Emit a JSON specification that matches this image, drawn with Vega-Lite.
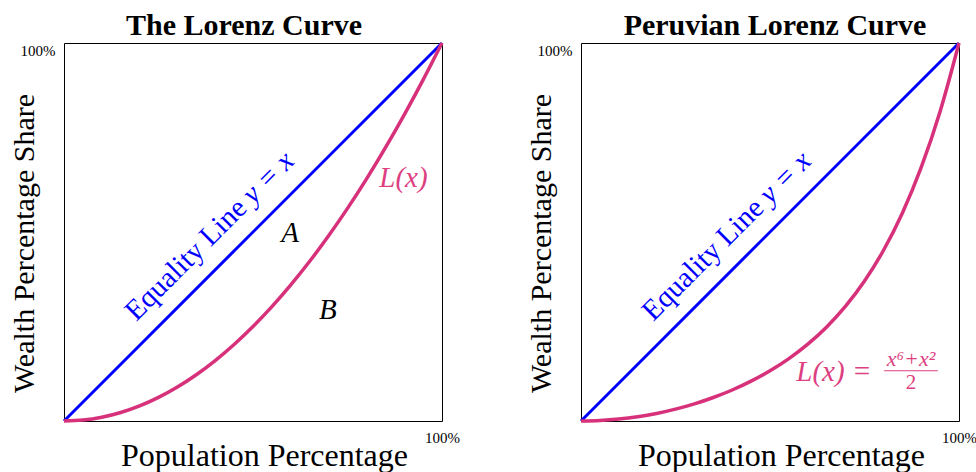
{
  "$schema": "https://vega.github.io/schema/vega-lite/v6.json",
  "background": "white",
  "padding": {"left": 8, "top": 10, "right": 0, "bottom": 0},
  "spacing": 139,
  "bounds": "flush",
  "config": {
    "view": {"stroke": "#000", "strokeWidth": 1},
    "font": "Liberation Serif",
    "axis": {
      "ticks": false,
      "domain": false,
      "grid": false,
      "labelFlush": false,
      "labelOverlap": false,
      "labelFont": "Liberation Serif",
      "labelFontSize": 15,
      "labelColor": "#000",
      "labelPadding": 9,
      "titleFont": "Liberation Serif",
      "titleFontWeight": "normal",
      "titleColor": "#000",
      "titleBaseline": "alphabetic",
      "titleAlign": "center"
    }
  },
  "datasets": {
    "equality": [{"x": 0, "y": 0}, {"x": 1, "y": 1}],
    "lorenz1": [
      {"x": 0, "y": 0}, {"x": 0.05, "y": 0.0025}, {"x": 0.1, "y": 0.01}, {"x": 0.15, "y": 0.0225},
      {"x": 0.2, "y": 0.04}, {"x": 0.25, "y": 0.0625}, {"x": 0.3, "y": 0.09}, {"x": 0.35, "y": 0.1225},
      {"x": 0.4, "y": 0.16}, {"x": 0.45, "y": 0.2025}, {"x": 0.5, "y": 0.25}, {"x": 0.55, "y": 0.3025},
      {"x": 0.6, "y": 0.36}, {"x": 0.65, "y": 0.4225}, {"x": 0.7, "y": 0.49}, {"x": 0.75, "y": 0.5625},
      {"x": 0.8, "y": 0.64}, {"x": 0.85, "y": 0.7225}, {"x": 0.9, "y": 0.81}, {"x": 0.95, "y": 0.9025},
      {"x": 1, "y": 1}
    ],
    "lorenz2": [
      {"x": 0, "y": 0}, {"x": 0.05, "y": 0.00125}, {"x": 0.1, "y": 0.005}, {"x": 0.15, "y": 0.01126},
      {"x": 0.2, "y": 0.02003}, {"x": 0.25, "y": 0.03137}, {"x": 0.3, "y": 0.04536}, {"x": 0.35, "y": 0.06217},
      {"x": 0.4, "y": 0.08205}, {"x": 0.45, "y": 0.1054}, {"x": 0.5, "y": 0.13281}, {"x": 0.55, "y": 0.16509},
      {"x": 0.6, "y": 0.20333}, {"x": 0.65, "y": 0.24896}, {"x": 0.7, "y": 0.30382}, {"x": 0.75, "y": 0.37024},
      {"x": 0.8, "y": 0.45107}, {"x": 0.85, "y": 0.54983}, {"x": 0.9, "y": 0.67072}, {"x": 0.95, "y": 0.8188},
      {"x": 1, "y": 1}
    ],
    "eqWords": [{"x": 0.375, "y": 0.375, "label": "Equality Line"}],
    "eqMath": [{"x": 0.592, "y": 0.592, "label": "y = x"}],
    "regions": [{"x": 0.598, "y": 0.497, "label": "A"}, {"x": 0.698, "y": 0.294, "label": "B"}],
    "curveLabel1": [{"x": 0.898, "y": 0.644, "label": "L(x)"}],
    "curveLabel2": [{"x": 0.669, "y": 0.13, "label": "L(x) ="}],
    "fracNum": [{"x": 0.873, "y": 0.165, "label": "x⁶+x²"}],
    "fracBar": [{"x": 0.802, "x2": 0.944, "y": 0.133}],
    "fracDen": [{"x": 0.873, "y": 0.1, "label": "2"}]
  },
  "hconcat": [
    {
      "width": 378,
      "height": 378,
      "title": {"text": "The Lorenz Curve", "font": "Liberation Serif", "fontSize": 30, "fontWeight": "bold", "color": "#000", "baseline": "alphabetic", "offset": -29, "dx": -9, "anchor": "middle", "frame": "group"},
      "encoding": {
        "x": {"field": "x", "type": "quantitative", "scale": {"domain": [0, 1], "nice": false, "zero": false},
              "axis": {"values": [1], "format": ".0%", "title": "Population Percentage", "titleFontSize": 32, "titleX": 200, "titleY": 44}},
        "y": {"field": "y", "type": "quantitative", "scale": {"domain": [0, 1], "nice": false, "zero": false},
              "axis": {"values": [1], "format": ".0%", "title": "Wealth Percentage Share", "titleFontSize": 30, "titleX": -31, "titleY": 200, "titleAngle": -90, "labelBaseline": "top"}}
      },
      "layer": [
        {"data": {"name": "equality"}, "mark": {"type": "line", "color": "#0000ff", "strokeWidth": 3}},
        {"data": {"name": "lorenz1"}, "mark": {"type": "line", "color": "#d6317a", "strokeWidth": 3.5, "interpolate": "monotone"}},
        {"data": {"name": "eqWords"}, "mark": {"type": "text", "angle": 315, "fontSize": 29, "color": "#0000ff", "dy": -19, "align": "center", "baseline": "alphabetic"}, "encoding": {"text": {"field": "label"}}},
        {"data": {"name": "eqMath"}, "mark": {"type": "text", "angle": 315, "fontSize": 29, "fontStyle": "italic", "color": "#0000ff", "dy": -19, "align": "center", "baseline": "alphabetic"}, "encoding": {"text": {"field": "label"}}},
        {"data": {"name": "regions"}, "mark": {"type": "text", "fontSize": 29, "fontStyle": "italic", "color": "#000", "align": "center", "baseline": "middle"}, "encoding": {"text": {"field": "label"}}},
        {"data": {"name": "curveLabel1"}, "mark": {"type": "text", "fontSize": 29, "fontStyle": "italic", "color": "#dd3f81", "align": "center", "baseline": "middle"}, "encoding": {"text": {"field": "label"}}}
      ]
    },
    {
      "width": 378,
      "height": 378,
      "title": {"text": "Peruvian Lorenz Curve", "font": "Liberation Serif", "fontSize": 30, "fontWeight": "bold", "color": "#000", "baseline": "alphabetic", "offset": -29, "dx": 5, "anchor": "middle", "frame": "group"},
      "encoding": {
        "x": {"field": "x", "type": "quantitative", "scale": {"domain": [0, 1], "nice": false, "zero": false},
              "axis": {"values": [1], "format": ".0%", "title": "Population Percentage", "titleFontSize": 32, "titleX": 200, "titleY": 44}},
        "y": {"field": "y", "type": "quantitative", "scale": {"domain": [0, 1], "nice": false, "zero": false},
              "axis": {"values": [1], "format": ".0%", "title": "Wealth Percentage Share", "titleFontSize": 30, "titleX": -31, "titleY": 200, "titleAngle": -90, "labelBaseline": "top"}}
      },
      "layer": [
        {"data": {"name": "equality"}, "mark": {"type": "line", "color": "#0000ff", "strokeWidth": 3}},
        {"data": {"name": "lorenz2"}, "mark": {"type": "line", "color": "#d6317a", "strokeWidth": 3.5, "interpolate": "monotone"}},
        {"data": {"name": "eqWords"}, "mark": {"type": "text", "angle": 315, "fontSize": 29, "color": "#0000ff", "dy": -19, "align": "center", "baseline": "alphabetic"}, "encoding": {"text": {"field": "label"}}},
        {"data": {"name": "eqMath"}, "mark": {"type": "text", "angle": 315, "fontSize": 29, "fontStyle": "italic", "color": "#0000ff", "dy": -19, "align": "center", "baseline": "alphabetic"}, "encoding": {"text": {"field": "label"}}},
        {"data": {"name": "curveLabel2"}, "mark": {"type": "text", "fontSize": 29, "fontStyle": "italic", "color": "#dd3f81", "align": "center", "baseline": "middle"}, "encoding": {"text": {"field": "label"}}},
        {"data": {"name": "fracNum"}, "mark": {"type": "text", "fontSize": 22, "fontStyle": "italic", "color": "#dd3f81", "align": "center", "baseline": "middle"}, "encoding": {"text": {"field": "label"}}},
        {"data": {"name": "fracBar"}, "mark": {"type": "rule", "color": "#dd3f81", "strokeWidth": 1.2}, "encoding": {"x2": {"field": "x2"}}},
        {"data": {"name": "fracDen"}, "mark": {"type": "text", "fontSize": 21, "color": "#dd3f81", "align": "center", "baseline": "middle"}, "encoding": {"text": {"field": "label"}}}
      ]
    }
  ]
}
